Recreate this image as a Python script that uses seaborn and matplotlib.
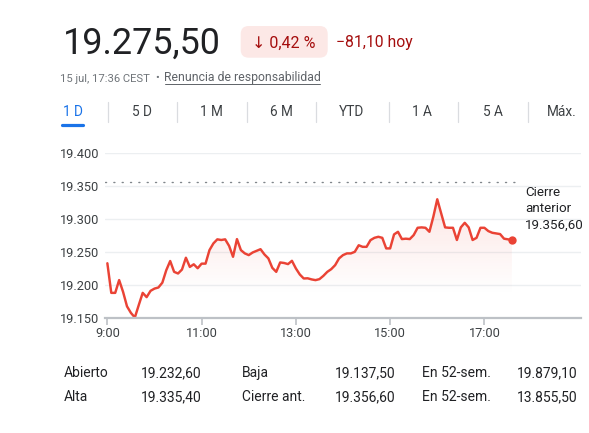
import numpy as np
import pandas as pd
import matplotlib
matplotlib.use("Agg")
import matplotlib.pyplot as plt
import matplotlib.transforms as mtransforms
from matplotlib.patches import FancyBboxPatch
from matplotlib.lines import Line2D
from matplotlib.ticker import FuncFormatter
import seaborn as sns

# ---------------- data ----------------
times = [
    "9:00", "9:05", "9:10", "9:15", "9:20", "9:25", "9:30", "9:35", "9:40", "9:45", "9:50", "9:55",
    "10:00", "10:05", "10:10", "10:15", "10:20", "10:25", "10:30", "10:35", "10:40", "10:45", "10:50", "10:55",
    "11:00", "11:05", "11:10", "11:15", "11:20", "11:25", "11:30", "11:35", "11:40", "11:45", "11:50", "11:55",
    "12:00", "12:05", "12:10", "12:15", "12:20", "12:25", "12:30", "12:35", "12:40", "12:45", "12:50", "12:55",
    "13:00", "13:05", "13:10", "13:15", "13:20", "13:25", "13:30", "13:35", "13:40", "13:45", "13:50", "13:55",
    "14:00", "14:05", "14:10", "14:15", "14:20", "14:25", "14:30", "14:35", "14:40", "14:45", "14:50", "14:55",
    "15:00", "15:05", "15:10", "15:15", "15:20", "15:25", "15:30", "15:35", "15:40", "15:45", "15:50", "15:55",
    "16:00", "16:05", "16:10", "16:15", "16:20", "16:25", "16:30", "16:35", "16:40", "16:45", "16:50", "16:55",
    "17:00", "17:05", "17:10", "17:15", "17:20", "17:25", "17:30", "17:35",
]
prices = [
    19232.6, 19187.5, 19187.5, 19207.0, 19189.0, 19167.0, 19157.0, 19150.0, 19169.0, 19187.5, 19181.0, 19190.6,
    19194.0, 19195.7, 19203.0, 19222.0, 19236.0, 19219.5, 19217.0, 19223.0, 19241.0, 19227.0, 19231.0, 19225.0,
    19232.0, 19232.0, 19252.6, 19262.8, 19269.0, 19268.0, 19269.0, 19259.0, 19242.4, 19269.4, 19252.6, 19247.6,
    19245.0, 19249.0, 19251.5, 19254.0, 19246.0, 19240.0, 19225.6, 19219.5, 19233.8, 19233.0, 19231.3, 19236.3,
    19224.7, 19215.5, 19209.4, 19209.7, 19208.0, 19206.9, 19208.4, 19213.4, 19219.5, 19223.6, 19229.7, 19240.0,
    19245.0, 19247.6, 19247.6, 19250.0, 19260.0, 19257.6, 19257.6, 19267.8, 19271.3, 19272.9, 19271.3, 19255.2,
    19255.2, 19276.5, 19280.5, 19269.4, 19270.0, 19269.4, 19275.5, 19286.6, 19287.2, 19286.6, 19280.5, 19303.4,
    19330.0, 19308.5, 19287.2, 19286.6, 19286.6, 19268.0, 19287.2, 19294.2, 19287.2, 19268.0, 19271.3, 19286.6,
    19286.6, 19281.6, 19279.0, 19278.0, 19277.0, 19270.0, 19269.0, 19268.0,
]
prev_close = 19356.6
y_ticks = [19150, 19200, 19250, 19300, 19350, 19400]
x_tick_labels = ["9:00", "11:00", "13:00", "15:00", "17:00"]

header_price = "19.275,50"
header_pct = "\u2193 0,42 %"
header_abs = "\u221281,10 hoy"
header_sub = "15 jul, 17:36 CEST"
header_bullet = "\u2022"
header_link = "Renuncia de responsabilidad"
tabs = ["1 D", "5 D", "1 M", "6 M", "YTD", "1 A", "5 A", "Máx."]
close_label = ["Cierre", "anterior", "19.356,60"]
table_labels = [["Abierto", "Baja", "En 52-sem."], ["Alta", "Cierre ant.", "En 52-sem."]]
table_values = [["19.232,60", "19.137,50", "19.879,10"], ["19.335,40", "19.356,60", "13.855,50"]]


def to_min(t):
    h, m = t.split(":")
    return (int(h) - 9) * 60 + int(m)


df = pd.DataFrame({"min": [to_min(t) for t in times], "price": prices})

# ---------------- figure ----------------
sns.set_theme(style="white")
plt.rcParams["font.family"] = ["Roboto", "DejaVu Sans"]

W, H = 589, 433
fig = plt.figure(figsize=(W / 100, H / 100), dpi=100)
fig.patch.set_facecolor("white")
PX = mtransforms.Affine2D().scale(1 / W, -1 / H).translate(0, 1) + fig.transFigure

ax_left, ax_right, ax_top, ax_bot = 105, 581, 153.3, 317.5
ax = fig.add_axes([ax_left / W, (H - ax_bot) / H, (ax_right - ax_left) / W, (ax_bot - ax_top) / H])
ax.set_facecolor("white")

RED = "#ea4335"
XMIN, XMAX = -3, 603
YMIN, YMAX = 19150, 19400

# gradient fill under the line
poly = ax.fill_between(df["min"], df["price"], YMIN, facecolor="none", edgecolor="none")
grad_top, grad_bot = 19340, 19185
n = 256
alpha = np.linspace(0.14, 0.0, n).reshape(n, 1)
rgba = np.zeros((n, 1, 4))
rgba[..., 0] = 234 / 255
rgba[..., 1] = 67 / 255
rgba[..., 2] = 53 / 255
rgba[..., 3] = alpha
im = ax.imshow(rgba, extent=[df["min"].min(), df["min"].max(), grad_bot, grad_top],
               origin="upper", aspect="auto", zorder=1, interpolation="bilinear")
path = poly.get_paths()[0]
im.set_clip_path(path, transform=ax.transData)

sns.lineplot(data=df, x="min", y="price", ax=ax, color=RED, linewidth=1.75, zorder=3)
ax.scatter([df["min"].iloc[-1]], [df["price"].iloc[-1]], s=36, color=RED, zorder=4, linewidths=0)

# previous close dotted line
ax.plot([XMIN, 526], [prev_close, prev_close], color="#80868b", lw=1.0,
        linestyle=(0, (0.8, 5.2)), zorder=2, dash_capstyle="round")

ax.set_xlim(XMIN, XMAX)
ax.set_ylim(YMIN, YMAX)
ax.set_xlabel("")
ax.set_ylabel("")

ax.set_yticks(y_ticks)
ax.yaxis.set_major_formatter(FuncFormatter(lambda v, p: f"{v:,.0f}".replace(",", ".")))
ax.tick_params(axis="y", length=0, pad=32.4, labelsize=9.2, labelcolor="#3c4043")
for lab in ax.get_yticklabels():
    lab.set_horizontalalignment("left")
ax.yaxis.grid(True, color="#eceff1", linewidth=1.0, zorder=0)
ax.set_axisbelow(True)

ax.set_xticks([to_min(t) for t in x_tick_labels])
ax.set_xticklabels(x_tick_labels)
ax.tick_params(axis="x", length=5, width=1.2, color="#bdc1c6", pad=1.5, labelsize=9.2,
               labelcolor="#3c4043", bottom=True)

for s in ["top", "right", "left"]:
    ax.spines[s].set_visible(False)
ax.spines["bottom"].set_color("#bdc1c6")
ax.spines["bottom"].set_linewidth(1.6)
ax.spines["bottom"].set_zorder(5)

# ---------------- header ----------------
fig.text(62.5, 53.5, header_price, transform=PX, fontsize=25.9, color="#202124", va="baseline", ha="left")
badge = FancyBboxPatch((240.7, 26), 87, 31.7, boxstyle="round,pad=0,rounding_size=8",
                       transform=PX, facecolor="#fce8e6", edgecolor="none")
fig.add_artist(badge)
fig.text(284.2, 47.5, header_pct, transform=PX, fontsize=11.5, color="#a50e0e", va="baseline", ha="center")
fig.text(336.5, 47.5, header_abs, transform=PX, fontsize=11.3, color="#a50e0e", va="baseline", ha="left")

fig.text(60, 81.5, header_sub, transform=PX, fontsize=8.1, color="#70757a", va="baseline", ha="left")
fig.text(156.8, 81.5, header_bullet, transform=PX, fontsize=8.1, color="#70757a", va="baseline", ha="center")
fig.text(164.5, 81.5, header_link, transform=PX, fontsize=8.8, color="#5f6368", va="baseline", ha="left")
fig.add_artist(Line2D([164.5, 320], [84.2, 84.2], transform=PX, color="#5f6368", lw=0.7))

# tabs
tab_x = [73.4, 142.1, 211.6, 281.0, 351.5, 422.3, 492.8, 562.2]
sep_x = [107.8, 177.2, 246.6, 315.7, 389.3, 458.0, 527.8]
for i, (t, x) in enumerate(zip(tabs, tab_x)):
    fig.text(x, 112.2, t, transform=PX, fontsize=9.8, color="#1a73e8" if i == 0 else "#3c4043",
             va="center", ha="center")
for x in sep_x:
    fig.add_artist(Line2D([x, x], [101.5, 121.5], transform=PX, color="#dadce0", lw=0.9))
fig.add_artist(Line2D([61.5, 83], [125.3, 125.3], transform=PX, color="#1a73e8", lw=2.3,
                      solid_capstyle="round"))

# previous close label
for txt, yb in zip(close_label, [196.0, 212.0, 228.3]):
    fig.text(525.3, yb, txt, transform=PX, fontsize=9.6, color="#202124", va="baseline", ha="left")

# ---------------- table ----------------
col_lab_x = [63.8, 241.5, 422.0]
col_val_x = [141.1, 334.6, 516.8]
row_y = [377.3, 401.4]
for r in range(2):
    for c in range(3):
        fig.text(col_lab_x[c], row_y[r], table_labels[r][c], transform=PX, fontsize=10.0,
                 color="#202124", va="baseline", ha="left")
        fig.text(col_val_x[c], row_y[r], table_values[r][c], transform=PX, fontsize=10.0,
                 color="#202124", va="baseline", ha="left")

fig.savefig("out.png", dpi=100, facecolor="white")
